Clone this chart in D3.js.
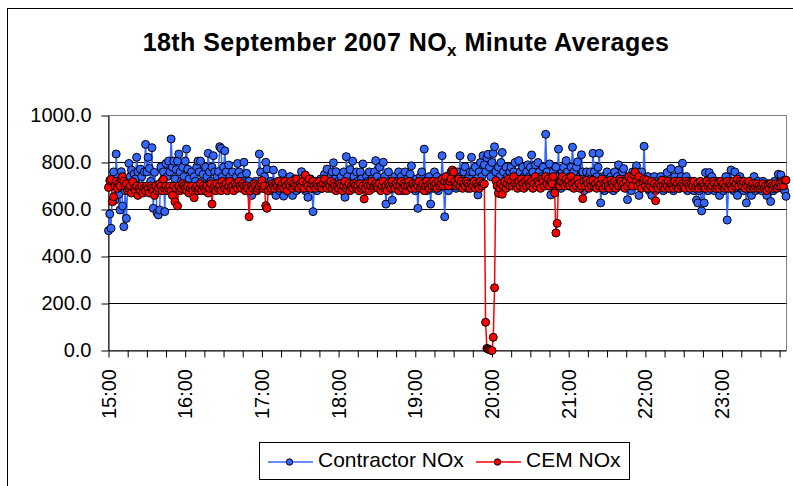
<!DOCTYPE html>
<html>
<head>
<meta charset="utf-8">
<script src="https://cdn.jsdelivr.net/npm/d3@7"></script>
<style>
  body { margin: 0; background: #fff; }
  svg { display: block; font-family: "Liberation Sans", Arial, sans-serif; }
</style>
</head>
<body>
<div id="chart"></div>
<script>
// Minute averages, 15:00 to 23:50 (one value per minute, 15 per row).
const contractor = [
  510,581,520,700,760,640,836,720,665,598,761,615,527,680,562,
  690,796,740,768,700,751,730,822,760,700,772,740,690,760,877,
  760,822,775,720,863,605,758,700,586,577,598,782,720,760,591,
  796,740,806,760,900,780,806,730,770,806,836,760,720,780,740,
  806,857,772,730,700,760,690,740,720,780,806,760,806,720,750,
  700,780,740,839,760,720,780,829,760,700,740,761,867,860,740,
  780,850,760,720,789,740,700,760,720,690,740,796,760,700,740,
  720,801,700,754,690,720,680,660,700,690,720,680,700,836,760,
  720,690,740,801,772,700,680,720,690,768,700,660,690,720,680,
  700,754,657,700,720,680,700,740,690,660,710,730,680,700,720,
  690,761,720,700,680,710,652,700,730,690,591,700,720,680,710,
  700,730,690,720,750,700,772,720,690,740,760,799,730,761,700,
  720,690,740,700,760,652,825,740,700,770,720,806,740,690,760,
  720,700,760,730,794,700,680,740,720,760,690,730,700,760,808,
  740,700,780,720,690,801,740,623,700,760,720,690,640,700,740,
  720,690,760,700,740,680,720,760,700,730,690,750,786,720,700,
  680,730,605,700,740,760,690,857,720,680,700,740,623,720,690,
  760,700,740,680,720,700,829,720,569,700,740,680,720,760,700,
  740,720,690,760,700,829,740,700,760,782,720,690,740,760,822,
  760,720,780,700,662,760,800,740,829,790,760,820,835,780,740,
  800,839,867,760,720,780,740,800,843,760,720,780,740,700,760,
  780,720,760,800,740,700,808,760,720,780,740,700,760,790,740,
  780,832,760,720,790,740,800,760,700,740,780,720,920,760,700,
  794,662,720,760,700,780,740,857,720,690,760,780,720,808,760,
  700,740,780,865,760,720,780,803,700,740,833,760,680,720,760,
  700,740,760,720,839,760,700,740,780,839,628,700,740,680,720,
  760,700,690,740,720,680,760,700,740,790,720,700,760,774,700,
  720,642,700,740,680,760,720,700,786,740,660,700,760,720,869,
  720,700,740,680,720,660,700,740,680,720,700,690,740,710,680,
  720,700,757,690,720,774,700,680,740,720,700,768,690,740,797,
  720,700,740,680,720,700,690,720,680,700,640,628,680,700,594,
  700,628,757,720,680,757,700,740,720,680,700,720,690,660,700,
  720,680,700,740,555,700,720,768,700,680,760,720,660,700,740,
  690,720,680,700,628,710,690,720,660,700,740,680,700,720,690,
  700,680,720,690,700,660,710,690,634,700,680,720,690,700,750,
  700,747,690,720,680,656
];

const cem = [
  694,723,728,633,654,700,720,690,710,700,730,740,720,700,710,
  680,690,700,670,718,690,680,700,660,690,680,700,670,690,680,
  700,690,670,700,690,680,660,700,680,690,710,700,680,728,690,
  700,680,690,700,680,660,700,633,690,615,700,680,690,710,700,
  690,680,700,670,690,700,680,650,690,700,680,690,710,680,700,
  690,680,700,670,690,710,623,690,700,680,710,690,700,680,720,
  700,690,710,680,700,720,690,700,680,710,700,690,720,700,690,
  710,700,680,700,690,569,680,700,690,710,700,680,690,700,710,
  723,690,700,616,605,680,700,690,710,700,690,710,700,720,690,
  700,710,690,720,700,680,710,700,720,690,710,700,730,700,690,
  710,700,720,690,747,710,700,730,690,710,720,700,690,710,700,
  720,700,690,710,730,700,690,710,700,720,690,710,700,680,700,
  690,710,700,680,700,720,690,700,710,680,700,690,710,700,690,
  700,680,710,690,700,645,690,710,700,680,700,720,690,700,710,
  700,690,710,680,700,720,690,700,680,710,700,690,720,700,690,
  710,700,680,700,720,690,710,700,680,700,720,700,690,710,700,
  690,710,700,720,690,700,710,680,700,720,700,690,710,700,720,
  700,710,690,720,700,710,730,700,720,740,710,700,720,730,768,
  760,720,700,710,730,700,720,690,710,700,720,710,700,690,710,
  700,720,690,710,700,690,720,700,711,709,120,9,6,4,1,
  0,56,267,723,700,669,690,710,665,700,720,690,710,730,700,
  720,700,740,710,700,690,720,700,730,710,690,720,700,730,710,
  700,720,690,710,740,700,720,710,690,730,720,700,740,710,730,
  700,720,710,740,670,500,541,700,700,720,740,710,700,730,710,
  720,700,740,710,690,720,700,730,710,690,700,646,720,700,725,
  710,690,720,700,725,700,710,690,720,700,710,730,690,710,700,
  720,700,690,725,710,700,720,690,710,700,730,720,700,710,690,
  720,700,740,710,730,700,747,760,720,700,740,710,690,720,730,
  700,725,690,710,700,720,690,710,637,700,690,710,700,725,700,
  690,710,700,720,690,710,700,690,720,700,710,690,720,700,710,
  700,690,720,710,700,690,710,700,720,690,700,710,690,720,700,
  710,700,690,720,700,710,690,700,720,710,690,700,710,690,720,
  700,710,690,700,720,690,710,700,690,720,700,710,730,700,720,
  710,700,720,690,710,700,720,690,700,710,690,700,710,690,700,
  690,700,710,690,700,680,700,690,710,700,690,700,710,690,700,
  710,700,720,700,725,725
];

const hourLabels = ["15:00","16:00","17:00","18:00","19:00","20:00","21:00","22:00","23:00"];
const yTicks = [0, 200, 400, 600, 800, 1000];

const series = [
  { name: "Contractor NOx", values: contractor, color: "#3366FF" },
  { name: "CEM NOx", values: cem, color: "#FF0000" }
];

const W = 793, H = 486;
const N = contractor.length;

const svg = d3.select("#chart").append("svg")
  .attr("width", W).attr("height", H);

// outer chart border
svg.append("rect")
  .attr("x", 7.5).attr("y", 8.5)
  .attr("width", 810).attr("height", 520)
  .attr("fill", "#fff").attr("stroke", "#000");

// title with subscript x
const title = svg.append("text")
  .attr("x", 406).attr("y", 51)
  .attr("text-anchor", "middle")
  .attr("font-weight", "bold")
  .attr("font-size", 25)
  .attr("letter-spacing", 0.45);
title.append("tspan").text("18th September 2007 NO");
title.append("tspan").attr("font-size", 17).attr("dy", 5).text("x");
title.append("tspan").attr("dy", -5).text(" Minute Averages");

const x = d3.scaleLinear().domain([0, N - 1]).range([108.5, 786]);
const y = d3.scaleLinear().domain([0, 1000]).range([350.5, 115.5]);

// plot area
svg.append("rect")
  .attr("x", 108.5).attr("y", 115.5)
  .attr("width", 786.5 - 108.5).attr("height", 235)
  .attr("fill", "#fff").attr("stroke", "#808080");

svg.append("g")
  .selectAll("line")
  .data(yTicks.filter(d => d > 0 && d < 1000))
  .join("line")
  .attr("x1", 108.5).attr("x2", 786.5)
  .attr("y1", d => y(d)).attr("y2", d => y(d))
  .attr("stroke", "#000");

// y axis
const yAxis = svg.append("g")
  .attr("transform", "translate(108.5,0)")
  .call(d3.axisLeft(y).tickValues(yTicks).tickSize(7).tickSizeOuter(0)
    .tickPadding(10).tickFormat(d3.format(".1f")));
yAxis.selectAll("text").attr("font-size", 20).attr("fill", "#000")
  .attr("font-family", "Liberation Sans, Arial, sans-serif");

// x axis: ticks every 15 minutes, labels every hour
const xAxis = svg.append("g")
  .attr("transform", "translate(0,350.5)")
  .call(d3.axisBottom(x).tickValues(d3.range(0, N, 15)).tickSize(7)
    .tickSizeOuter(0).tickFormat(""));
xAxis.select(".domain").attr("stroke", "#000");

svg.append("g")
  .selectAll("text")
  .data(hourLabels)
  .join("text")
  .attr("transform", (d, i) => `translate(${x(i * 60)},369) rotate(-90)`)
  .attr("text-anchor", "end")
  .attr("dy", "0.35em")
  .attr("font-size", 20)
  .text(d => d);

// series: lines first, then markers
const line = d3.line().x((d, i) => x(i)).y(d => y(d));

series.forEach(s => {
  const g = svg.append("g");
  g.append("path")
    .datum(s.values)
    .attr("d", line)
    .attr("fill", "none")
    .attr("stroke", s.color)
    .attr("stroke-width", 1.5);
  g.selectAll("circle")
    .data(s.values)
    .join("circle")
    .attr("cx", (d, i) => x(i))
    .attr("cy", d => y(d))
    .attr("r", 4)
    .attr("fill", s.color)
    .attr("stroke", "#000")
    .attr("stroke-width", 1);
});

// legend
const legend = svg.append("g");
legend.append("rect")
  .attr("x", 259.5).attr("y", 442.5)
  .attr("width", 370).attr("height", 37)
  .attr("fill", "#fff").attr("stroke", "#000");

const legendX = [268, 476];
series.forEach((s, i) => {
  const lx = legendX[i];
  legend.append("line")
    .attr("x1", lx).attr("x2", lx + 45)
    .attr("y1", 462).attr("y2", 462)
    .attr("stroke", s.color).attr("stroke-width", 1.5);
  legend.append("circle")
    .attr("cx", lx + 21.5).attr("cy", 462).attr("r", 3.2)
    .attr("fill", s.color).attr("stroke", "#000");
  legend.append("text")
    .attr("x", lx + 50).attr("y", 467)
    .attr("font-size", 21)
    .text(s.name);
});
</script>
</body>
</html>
